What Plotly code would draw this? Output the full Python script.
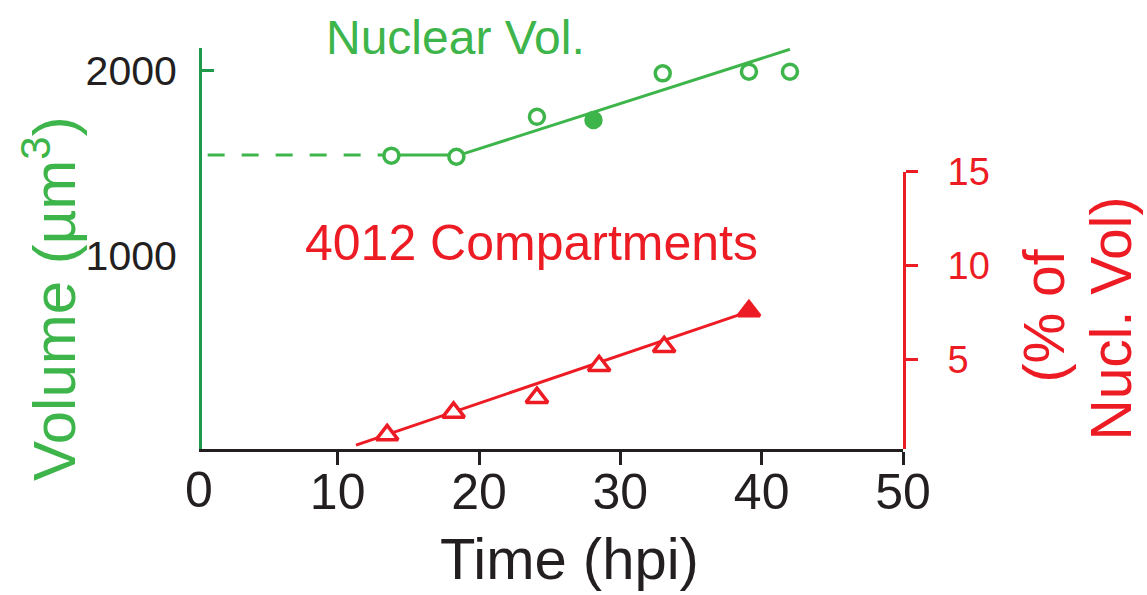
import plotly.graph_objects as go

# ---- data -------------------------------------------------------------
# Nuclear volume (µm³) vs time post infection (hours)
nuc_time = [13.8, 18.4, 24.1, 28.1, 33.0, 39.1, 42.0]
nuc_vol = [1541, 1535, 1751, 1734, 1986, 1995, 1995]
nuc_filled = [False, False, False, True, False, False, False]

# piecewise fit: plateau then linear growth, plus dashed extrapolation back to t≈0
nuc_fit_time = [13.8, 18.6, 42.0]
nuc_fit_vol = [1544, 1544, 2116]
nuc_base_time = [0.8, 13.8]
nuc_base_vol = [1544, 1544]

# 4012 compartments, % of nuclear volume
comp_time = [13.5, 18.2, 24.1, 28.5, 33.1, 39.1]
comp_pct = [0.96, 2.16, 2.95, 4.65, 5.66, 7.57]
comp_filled = [False, False, False, False, False, True]
comp_fit_time = [11.3, 38.5]
comp_fit_pct = [0.42, 7.39]

x_ticks = [10, 20, 30, 40, 50]
vol_ticks = [1000, 2000]
pct_ticks = [5, 10, 15]

# ---- styling ----------------------------------------------------------
GREEN = "#3db54a"
AXIS_GREEN = "#1f9a4b"
RED = "#ed1c24"
BLACK = "#231f20"
FONT = "Liberation Sans, Arial, sans-serif"

W, H = 1147, 595
L, R, T, B = 202, 244, 48, 146
PW, PH = W - L - R, H - T - B


def px(x):
    return (x - L) / PW


def py(y):
    return (H - B - y) / PH


fig = go.Figure()

# dashed extrapolation of the nuclear plateau
fig.add_trace(go.Scatter(
    x=nuc_base_time, y=nuc_base_vol, mode="lines",
    line=dict(color=GREEN, width=3, dash="17px,17px"),
    hoverinfo="skip", showlegend=False))
# nuclear fit
fig.add_trace(go.Scatter(
    x=nuc_fit_time, y=nuc_fit_vol, mode="lines",
    line=dict(color=GREEN, width=3), hoverinfo="skip", showlegend=False))
# nuclear measurements
fig.add_trace(go.Scatter(
    x=nuc_time, y=nuc_vol, mode="markers",
    marker=dict(symbol="circle", size=15,
                color=[GREEN if f else "white" for f in nuc_filled],
                line=dict(color=GREEN, width=3.5)),
    showlegend=False, name="Nuclear Vol."))

# compartment fit and measurements on the right-hand axis
fig.add_trace(go.Scatter(
    x=comp_fit_time, y=comp_fit_pct, mode="lines", yaxis="y2",
    line=dict(color=RED, width=3), hoverinfo="skip", showlegend=False))
fig.add_trace(go.Scatter(
    x=comp_time, y=comp_pct, mode="markers", yaxis="y2",
    marker=dict(symbol="triangle-up", size=19,
                color=[RED if f else "white" for f in comp_filled],
                line=dict(color=RED, width=3.5)),
    showlegend=False, name="4012 Compartments"))

fig.update_layout(
    width=W, height=H, autosize=False,
    margin=dict(l=L, r=R, t=T, b=B, pad=0),
    paper_bgcolor="white", plot_bgcolor="white",
    font=dict(family=FONT, color=BLACK),
    xaxis=dict(
        range=[0.4, 50], domain=[0, 1], anchor="y",
        tickvals=x_ticks, ticks="outside", ticklen=13, tickwidth=3,
        tickcolor=BLACK, showline=True, linecolor=BLACK, linewidth=3,
        showgrid=False, zeroline=False,
        tickfont=dict(size=50, color=BLACK, family=FONT),
        ticklabelstandoff=-16),
    yaxis=dict(
        range=[-45, 2123], domain=[0, 1], anchor="x",
        tickvals=vol_ticks, ticks="inside", ticklen=12, tickwidth=3,
        tickcolor=AXIS_GREEN, showline=True, linecolor=AXIS_GREEN, linewidth=3,
        showgrid=False, zeroline=False,
        tickfont=dict(size=41, color=BLACK, family=FONT),
        ticklabelstandoff=14),
    yaxis2=dict(
        range=[0.21, 15], domain=[0, (H - B - 171.7) / PH], anchor="x",
        side="right",
        tickvals=pct_ticks, ticks="outside", ticklen=12, tickwidth=3,
        tickcolor=RED, showline=True, linecolor=RED, linewidth=3,
        showgrid=False, zeroline=False,
        tickfont=dict(size=38, color=RED, family=FONT),
        ticklabelstandoff=22),
)

annotations = [
    dict(text="Nuclear Vol.", x=px(455.5), y=py(37.5),
         font=dict(size=48, color=GREEN)),
    dict(text="4012 Compartments", x=px(531.5), y=py(242.5),
         font=dict(size=50, color=RED)),
    dict(text="Volume (µm<sup>3</sup>)", x=px(50), y=py(299), textangle=-90,
         font=dict(size=60, color=GREEN)),
    dict(text="(% of", x=px(1043), y=py(316.5), textangle=-90,
         font=dict(size=57, color=RED)),
    dict(text="Nucl. Vol)", x=px(1110), y=py(318.5), textangle=-90,
         font=dict(size=57, color=RED)),
    dict(text="Time (hpi)", x=px(569), y=py(558),
         font=dict(size=58, color=BLACK)),
    dict(text="0", x=px(199), y=py(490),
         font=dict(size=50, color=BLACK)),
]
for a in annotations:
    a.update(xref="paper", yref="paper", showarrow=False,
             xanchor="center", yanchor="middle")
    a["font"]["family"] = FONT
fig.update_layout(annotations=annotations)

fig.write_html("out.html")
